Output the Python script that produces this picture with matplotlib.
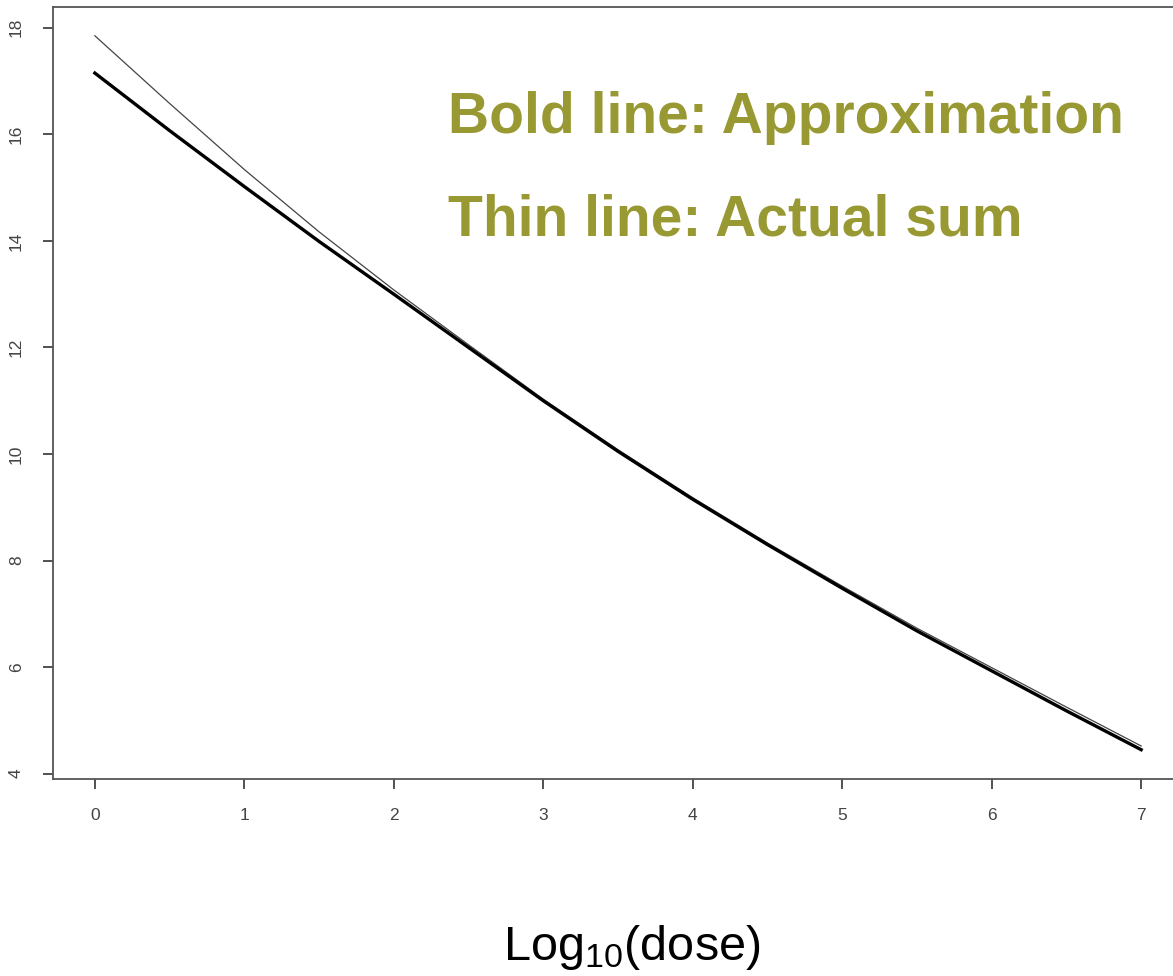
import matplotlib
matplotlib.use('Agg')
import matplotlib.pyplot as plt

plt.rcParams['font.family'] = 'Liberation Sans'
plt.rcParams['mathtext.fontset'] = 'custom'
plt.rcParams['mathtext.rm'] = 'Liberation Sans'
plt.rcParams['mathtext.it'] = 'Liberation Sans:italic'

# log10(dose)
dose = [0, 0.5, 1, 1.5, 2, 2.5, 3, 3.5, 4, 4.5, 5, 5.5, 6, 6.5, 7]
# bold line: approximation
approx = [17.15, 16.07, 15.02, 13.99, 13.0, 12.0, 11.0, 10.05, 9.15, 8.3, 7.48, 6.68, 5.93, 5.18, 4.45]
# thin line: actual sum
actual = [17.85, 16.58, 15.34, 14.17, 13.08, 12.05, 11.03, 10.08, 9.18, 8.33, 7.52, 6.73, 5.99, 5.25, 4.52]

fig = plt.figure(figsize=(11.73, 9.76), dpi=100)
ax = fig.add_axes([53/1173, 1-779/976, 1130/1173, 772/976])

ax.plot(dose, actual, color='#444444', lw=0.9)
ax.plot(dose, approx, color='black', lw=2.4)

ax.set_xlim(-0.28, 7.28)
ax.set_ylim(3.9, 18.39)
ax.set_xticks(range(0, 8))
ax.set_yticks([4, 6, 8, 10, 12, 14, 16, 18])
ax.tick_params(axis='both', length=7, width=1.2, color='#333333',
               labelsize=12.5, labelcolor='#444444', pad=14)
plt.setp(ax.get_yticklabels(), rotation=90, va='center')
for s in ax.spines.values():
    s.set_color('#555555')
    s.set_linewidth(1.3)

tc = '#999933'
fig.text(448/1173, 1-133/976, 'Bold line: Approximation', color=tc,
         fontsize=41, fontweight='bold', ha='left', va='baseline')
fig.text(448/1173, 1-235/976, 'Thin line: Actual sum', color=tc,
         fontsize=41, fontweight='bold', ha='left', va='baseline')

fig.text(632/1173, 1-960/976, r'Log$_{\mathrm{10}}$(dose)', color='black',
         fontsize=35, ha='center', va='baseline')

fig.savefig('out.png', dpi=100)
